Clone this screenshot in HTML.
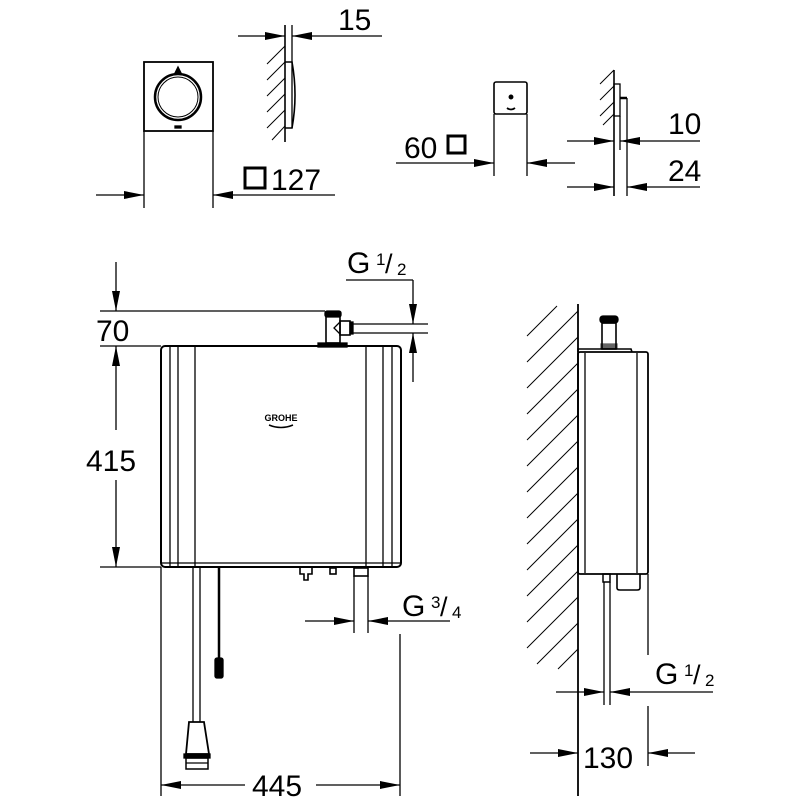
<!DOCTYPE html>
<html><head><meta charset="utf-8"><style>
html,body{margin:0;padding:0;background:#fff;}
svg{display:block;}
text{font-family:"Liberation Sans",sans-serif;fill:#000;}
</style></head><body>
<svg width="800" height="800" viewBox="0 0 800 800" xmlns="http://www.w3.org/2000/svg">
<defs>
<marker id="a" viewBox="0 0 20 8" refX="20" refY="4" markerWidth="20" markerHeight="8" markerUnits="userSpaceOnUse" orient="auto"><path d="M0,0 L20,4 L0,8 Z" fill="#000"/></marker>
</defs>
<g stroke="#000" fill="none" stroke-width="1.3">
<rect x="144" y="62" width="69" height="69" stroke-width="1.8"/>
<circle cx="178" cy="97" r="23" stroke-width="2.5"/>
<circle cx="178" cy="97" r="20" stroke-width="1"/>
<path d="M175,73 L178,67 L181,73 Z" fill="#000"/>
<rect x="175" y="126" width="6" height="2" fill="#000"/>
<line x1="144" y1="131" x2="144" y2="208"/>
<line x1="213" y1="131" x2="213" y2="208"/>
<line x1="96" y1="195" x2="144" y2="195" marker-end="url(#a)"/>
<line x1="335" y1="195" x2="213" y2="195" marker-end="url(#a)"/>
<line x1="285" y1="25" x2="285" y2="142" stroke-width="1.6"/>
<line x1="292" y1="25" x2="292" y2="62"/>
<path d="M285,62 L292,62 Q298,95 292,128 L285,128" stroke-width="1.6"/>
<line x1="292" y1="62" x2="292" y2="128"/>
<g stroke-width="1">
<line x1="267" y1="64" x2="285" y2="46"/><line x1="267" y1="80" x2="285" y2="62"/><line x1="267" y1="96" x2="285" y2="78"/><line x1="267" y1="112" x2="285" y2="94"/><line x1="267" y1="128" x2="285" y2="110"/><line x1="272" y1="140" x2="285" y2="126"/>
</g>
<line x1="238" y1="36" x2="285" y2="36" marker-end="url(#a)"/>
<line x1="382" y1="36" x2="292" y2="36" marker-end="url(#a)"/>
<rect x="494" y="82" width="33" height="32" rx="2" stroke-width="1.6"/>
<circle cx="511" cy="97" r="1.8" fill="#000"/>
<path d="M507,108 Q511,111 515,108" stroke-width="1.8"/>
<line x1="494" y1="114" x2="494" y2="176"/>
<line x1="527" y1="114" x2="527" y2="176"/>
<line x1="396" y1="163" x2="494" y2="163" marker-end="url(#a)"/>
<line x1="575" y1="163" x2="527" y2="163" marker-end="url(#a)"/>
<line x1="614" y1="70" x2="614" y2="196" stroke-width="1.6"/>
<rect x="614" y="84" width="6" height="32"/>
<line x1="620" y1="98" x2="627" y2="98" stroke-width="2.5"/>
<line x1="620" y1="116" x2="620" y2="150"/>
<line x1="627" y1="98" x2="627" y2="196"/>
<g stroke-width="1"><line x1="600" y1="84" x2="614" y2="70"/><line x1="600" y1="100" x2="614" y2="86"/><line x1="600" y1="116" x2="614" y2="102"/><line x1="603" y1="125" x2="614" y2="114"/></g>
<line x1="567" y1="141" x2="614" y2="141" marker-end="url(#a)"/>
<line x1="700" y1="141" x2="620" y2="141" marker-end="url(#a)"/>
<line x1="567" y1="187" x2="614" y2="187" marker-end="url(#a)"/>
<line x1="700" y1="187" x2="627" y2="187" marker-end="url(#a)"/>
<rect x="161" y="346" width="240" height="221" rx="4" stroke-width="2"/>
<line x1="170" y1="347" x2="170" y2="566"/><line x1="178" y1="347" x2="178" y2="566"/><line x1="195" y1="347" x2="195" y2="566"/>
<line x1="366" y1="347" x2="366" y2="566"/><line x1="383" y1="347" x2="383" y2="566"/><line x1="392" y1="347" x2="392" y2="566"/>
<line x1="161" y1="563" x2="401" y2="563"/>
<rect x="318" y="343" width="29" height="4" fill="#000"/>
<rect x="326" y="313" width="14" height="30" stroke-width="1.6"/>
<rect x="325" y="311" width="16" height="6" rx="2" fill="#000"/>
<path d="M340,322 L334,328 L340,334" />
<rect x="340" y="321" width="10" height="14" stroke-width="1.6"/>
<rect x="350" y="322" width="3" height="12" fill="#000"/>
<line x1="353" y1="324" x2="428" y2="324"/>
<line x1="353" y1="333" x2="428" y2="333"/>
<line x1="100" y1="311" x2="325" y2="311"/>
<line x1="100" y1="346" x2="161" y2="346"/>
<line x1="100" y1="567" x2="161" y2="567"/>
<line x1="116" y1="262" x2="116" y2="311" marker-end="url(#a)"/>
<line x1="116" y1="430" x2="116" y2="346" marker-end="url(#a)"/>
<line x1="116" y1="480" x2="116" y2="567" marker-end="url(#a)"/>
<line x1="346" y1="280" x2="413" y2="280"/>
<line x1="413" y1="280" x2="413" y2="324" marker-end="url(#a)"/>
<line x1="413" y1="382" x2="413" y2="333" marker-end="url(#a)"/>
<path d="M300,568 L300,574 L304,574 L304,580 L308,580 L308,574 L312,574 L312,568" stroke-width="1.6"/>
<rect x="330" y="568" width="6" height="6" stroke-width="1.6"/>
<rect x="354" y="568" width="14" height="8" stroke-width="1.6"/>
<line x1="354" y1="576" x2="354" y2="633"/><line x1="368" y1="576" x2="368" y2="633"/>
<line x1="305" y1="621" x2="354" y2="621" marker-end="url(#a)"/>
<line x1="450" y1="621" x2="368" y2="621" marker-end="url(#a)"/>
<line x1="193" y1="567" x2="193" y2="722"/><line x1="200" y1="567" x2="200" y2="722"/>
<line x1="219" y1="567" x2="219" y2="660" stroke-width="2.5"/>
<rect x="215" y="658" width="8" height="20" rx="2" fill="#000"/>
<path d="M189,722 L204,722 L209,754 L186,754 Z" stroke-width="1.8"/>
<rect x="184" y="754" width="26" height="4" fill="#000"/>
<rect x="186" y="758" width="22" height="11" stroke-width="1.5"/>
<line x1="186" y1="763" x2="208" y2="763"/>
<line x1="161" y1="567" x2="161" y2="796"/>
<line x1="400" y1="634" x2="400" y2="796"/>
<line x1="245" y1="785" x2="161" y2="785" marker-end="url(#a)"/>
<line x1="316" y1="785" x2="400" y2="785" marker-end="url(#a)"/>
<line x1="578" y1="304" x2="578" y2="796" stroke-width="1.8"/>
<g stroke-width="1">
<line x1="527" y1="336" x2="557" y2="306"/><line x1="527" y1="362" x2="578" y2="311"/>
<line x1="527" y1="388" x2="578" y2="337"/><line x1="527" y1="414" x2="578" y2="363"/>
<line x1="527" y1="440" x2="578" y2="389"/><line x1="527" y1="466" x2="578" y2="415"/>
<line x1="527" y1="492" x2="578" y2="441"/><line x1="527" y1="518" x2="578" y2="467"/>
<line x1="527" y1="544" x2="578" y2="493"/><line x1="527" y1="570" x2="578" y2="519"/>
<line x1="527" y1="596" x2="578" y2="545"/><line x1="527" y1="622" x2="578" y2="571"/>
<line x1="527" y1="648" x2="578" y2="597"/><line x1="537" y1="664" x2="578" y2="623"/>
<line x1="558" y1="669" x2="578" y2="649"/>
</g>
<rect x="578" y="352" width="70" height="222" rx="2" stroke-width="1.8"/>
<line x1="585" y1="353" x2="585" y2="573"/><line x1="637" y1="353" x2="637" y2="573"/>
<path d="M578,352 L578,349 L631,349 L632,352" stroke-width="1.6"/>
<rect x="602" y="323" width="14" height="26" stroke-width="1.6"/>
<rect x="600" y="316" width="18" height="7" rx="3" fill="#000"/>
<rect x="601" y="344" width="16" height="4" fill="#000" opacity=".6"/>
<rect x="603" y="574" width="7" height="8" stroke-width="1.5"/>
<path d="M617,574 L617,588 Q617,590 620,590 L637,590 Q640,590 640,588 L640,574" stroke-width="1.6"/>
<line x1="604" y1="582" x2="604" y2="705"/><line x1="610" y1="582" x2="610" y2="705"/>
<line x1="648" y1="574" x2="648" y2="655"/>
<line x1="556" y1="692" x2="604" y2="692" marker-end="url(#a)"/>
<line x1="713" y1="692" x2="610" y2="692" marker-end="url(#a)"/>
<line x1="648" y1="706" x2="648" y2="766"/>
<line x1="530" y1="753" x2="578" y2="753" marker-end="url(#a)"/>
<line x1="695" y1="753" x2="648" y2="753" marker-end="url(#a)"/>
</g>
<rect x="245" y="168" width="20" height="20" fill="none" stroke="#000" stroke-width="3"/>
<text x="271" y="190" font-size="30">127</text>
<text x="338" y="30" font-size="30">15</text>
<text x="404" y="158" font-size="30">60</text>
<rect x="448" y="136" width="17" height="17" fill="none" stroke="#000" stroke-width="3"/>
<text x="668" y="134" font-size="30">10</text>
<text x="668" y="181" font-size="30">24</text>
<text x="96" y="341" font-size="30">70</text>
<rect x="86" y="440" width="60" height="34" fill="#fff"/>
<text x="86" y="471" font-size="30">415</text>
<text x="347" y="273" font-size="30">G</text><text x="376" y="265" font-size="17">1</text><text x="385" y="273" font-size="27">/</text><text x="397" y="275" font-size="17">2</text>
<text x="402" y="616" font-size="30">G</text><text x="431" y="608" font-size="17">3</text><text x="440" y="616" font-size="27">/</text><text x="452" y="618" font-size="17">4</text>
<text x="655" y="684" font-size="30">G</text><text x="684" y="676" font-size="17">1</text><text x="693" y="684" font-size="27">/</text><text x="705" y="686" font-size="17">2</text>
<text x="252" y="796" font-size="30">445</text>
<text x="583" y="768" font-size="30">130</text>
<text x="281" y="421" font-size="9" font-weight="bold" text-anchor="middle" font-family="Liberation Serif,serif">GROHE</text>
<path d="M269,425 Q281,430 293,425" stroke="#000" stroke-width="1.5" fill="none"/>
</svg>
</body></html>
